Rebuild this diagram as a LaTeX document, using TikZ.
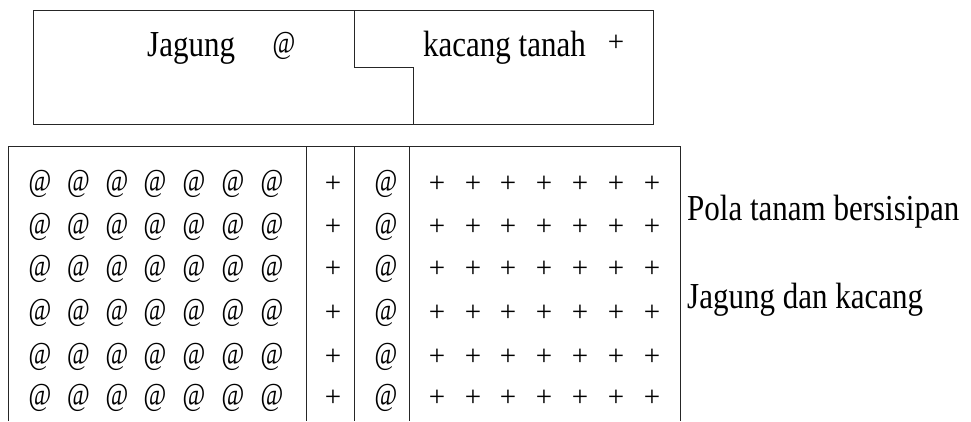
\documentclass[tikz,border=0pt]{standalone}
\usepackage{fontspec}
\setmainfont{Liberation Serif}
\tikzset{
  frame/.style={line width=1pt, draw=black!85},
  txt/.style={inner sep=0pt, font=\fontsize{31}{34}\selectfont, anchor=base west},
  atsym/.style={inner sep=0pt, font=\fontsize{29}{32}\selectfont},
  plussym/.style={inner sep=0pt, font=\fontsize{29}{32}\selectfont},
}
\newcommand{\tall}[1]{\scalebox{1}[1.18]{#1}}
\newcommand{\atg}{\scalebox{0.85}[1.1]{@}}
\begin{document}
\begin{tikzpicture}[x=1pt,y=-1pt]
\useasboundingbox (0,0) rectangle (971,421);
% top box
\draw[frame] (33,10) rectangle (653,124);
\draw[frame] (354,10) -- (354,67) -- (413,67) -- (413,124);
\node[txt] (tj) at (147,56) {\tall{Jagung}};
\node[atsym] (ta) at (284,46) {\atg};
\node[txt] (tk) at (423,56) {\tall{kacang tanah}};
\node[plussym] (tp) at (616,43) {+};
% bottom box (open at bottom)
\draw[frame] (8,421) -- (8,146) -- (680,146) -- (680,421);
\draw[frame] (306,146) -- (306,421);
\draw[frame] (354,146) -- (354,421);
\draw[frame] (409,146) -- (409,421);
% grid symbols
\foreach \r/\y in {1/184,2/227,3/269,4/313,5/357,6/398}{
  \foreach \c/\x in {1/40,2/78.5,3/117,4/155,5/194,6/233,7/272}{
    \node[atsym] (a\r\c) at (\x,\y) {\atg};
  }
  \node[plussym] (p\r) at (333,\y) {+};
  \node[atsym] (b\r) at (386,\y) {\atg};
  \foreach \c/\x in {1/437,2/473,3/508,4/544,5/580,6/616,7/652}{
    \node[plussym] (q\r\c) at (\x,\y) {+};
  }
}
% side labels
\node[txt] (l1) at (687,220) {\tall{Pola tanam bersisipan}};
\node[txt] (l2) at (687,308) {\tall{Jagung dan kacang}};
\end{tikzpicture}
\end{document}
